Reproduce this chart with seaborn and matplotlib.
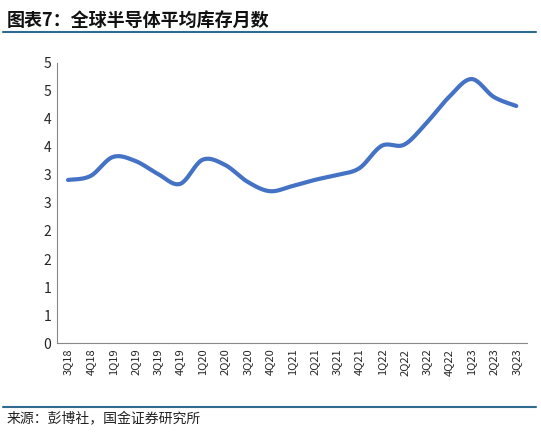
import numpy as np
import pandas as pd
import matplotlib
matplotlib.use("Agg")
import matplotlib.pyplot as plt
import seaborn as sns

quarters = ["3Q18","4Q18","1Q19","2Q19","3Q19","4Q19","1Q20","2Q20","3Q20","4Q20","1Q21",
            "2Q21","3Q21","4Q21","1Q22","2Q22","3Q22","4Q22","1Q23","2Q23","3Q23"]
values = [2.91,2.98,3.32,3.25,3.02,2.84,3.27,3.18,2.88,2.71,2.80,2.91,3.00,3.12,3.52,3.54,3.93,4.39,4.71,4.39,4.23]
yticks = [0,0.5,1,1.5,2,2.5,3,3.5,4,4.5,5]
ytick_labels = ["0","1","1","2","2","3","3","4","4","5","5"]

sns.set_theme(style="white")
plt.rcParams['font.family'] = ['Noto Sans CJK SC', 'DejaVu Sans']

# Catmull-Rom smoothing of the series for display
x = np.arange(len(values), dtype=float)
y = np.array(values)
px = np.concatenate([[x[0]], x, [x[-1]]]); py = np.concatenate([[y[0]], y, [y[-1]]])
xs, ys = [], []
t = np.linspace(0, 1, 20, endpoint=False)
for i in range(1, len(px) - 2):
    for arr, out in ((px, xs), (py, ys)):
        p0, p1, p2, p3 = arr[i-1], arr[i], arr[i+1], arr[i+2]
        out.extend(0.5*((2*p1) + (-p0+p2)*t + (2*p0-5*p1+4*p2-p3)*t**2 + (-p0+3*p1-3*p2+p3)*t**3))
xs.append(x[-1]); ys.append(y[-1])
df = pd.DataFrame({"x": xs, "y": ys})

fig = plt.figure(figsize=(5.41, 4.36), dpi=100)
ax = fig.add_axes([0.105, 0.213, 0.87, 0.643])
sns.lineplot(data=df, x="x", y="y", ax=ax, color="#4472C4", linewidth=3, sort=False)
ax.set_xlim(-0.5, len(values) - 0.5)
ax.set_ylim(0, 5)
ax.set_yticks(yticks)
ax.set_yticklabels(ytick_labels, fontsize=10)
ax.set_xticks(x)
ax.set_xticklabels(quarters, rotation=90, fontsize=8)
ax.set_xlabel(""); ax.set_ylabel("")
for s in ["top", "right"]:
    ax.spines[s].set_visible(False)
for s in ["left", "bottom"]:
    ax.spines[s].set_color("#888888"); ax.spines[s].set_linewidth(0.8)
ax.tick_params(axis="both", length=0, pad=4)

fig.text(0.012, 0.975, "图表7：全球半导体平均库存月数", fontsize=13, fontweight="bold",
         style="italic", color="#111111", va="top")
fig.add_artist(plt.Line2D([0.005, 0.99], [0.926, 0.926], color="#2E6B8E", linewidth=1.5))
fig.add_artist(plt.Line2D([0.005, 0.99], [0.066, 0.066], color="#2E6B8E", linewidth=1.5))
fig.text(0.012, 0.055, "来源：彭博社，国金证券研究所", fontsize=10, color="#222222", va="top")
fig.savefig("out.png", dpi=100)
